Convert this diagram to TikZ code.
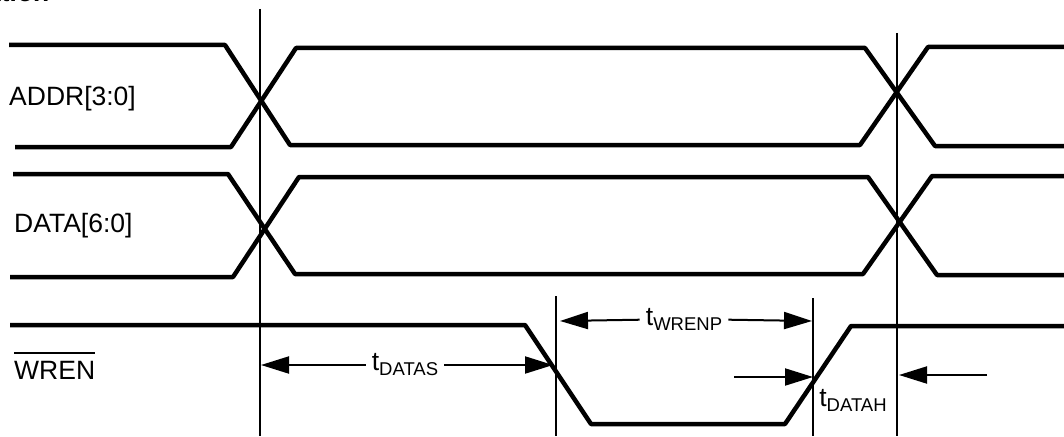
\documentclass[tikz,border=0pt]{standalone}
\usepackage{fontspec}
\setmainfont{Liberation Sans}
\usepackage{tikz}
\usetikzlibrary{arrows.meta,positioning}
\newsavebox\sigbox
\newcommand{\barsig}[1]{\sbox\sigbox{#1}\rlap{\rule[25pt]{\wd\sigbox}{2pt}}\usebox\sigbox}
\newcommand{\tsub}[1]{t\raisebox{-5pt}{\fontsize{18.5}{20}\selectfont #1}}
\tikzset{
    signal/.style={
    line width=4.5pt,line join=bevel
    },
    guide/.style={
    line width=2pt
    },
    dim/.style={
    line width=2pt,-{Triangle[length=28pt,width=17pt]}
    },
    sig/.style={
    font=\fontsize{26.5}{30}\selectfont,inner sep=0pt,anchor=base west
    },
    tlabel/.style={
    font=\fontsize{26.5}{30}\selectfont,inner ysep=0pt,inner xsep=6pt
    },
}
\begin{document}
\begin{tikzpicture}[x=1pt,y=-1pt]
  \useasboundingbox (0,0) rectangle (1064,436);
  \node[sig,font=\fontsize{26.5}{30}\selectfont\bfseries\itshape] (title) at (-13,2) {ation};

  % signal names
  \node[sig] (ADDR) at (9,105) {ADDR[3:0]};
  \node[sig] (DATA) at (14,232) {DATA[6:0]};
  \node[sig] (WREN) at (14,379) {\barsig{WREN}};

  % waveforms
  \draw[signal] (9,45) -- (225,45) -- (290,145) -- (860,145) -- (928,47) -- (1064,47);
  \draw[signal] (15,147) -- (231,147) -- (296,48) -- (865,48) -- (935,146) -- (1064,146);
  \draw[signal] (13,174) -- (228,174) -- (295,274) -- (863,274) -- (932,176) -- (1064,176);
  \draw[signal] (10,277) -- (233,277) -- (299,177) -- (868,177) -- (937,275) -- (1064,275);
  \draw[signal] (10,325) -- (525,325) -- (591,424) -- (785,424) -- (851,326) -- (1064,326);

  % guides
  \coordinate (g1t) at (260,9);    \coordinate (g1b) at (260,436);
  \coordinate (g2t) at (556,296);  \coordinate (g2b) at (556,436);
  \coordinate (g3t) at (813,298);  \coordinate (g3b) at (813,436);
  \coordinate (g4t) at (897,33);   \coordinate (g4b) at (897,436);
  \path[guide]
    (g1t) edge (g1b)
    (g2t) edge (g2b)
    (g3t) edge (g3b)
    (g4t) edge (g4b);

  % timing
  \node[tlabel] (tDATAS) at (405,365) {\tsub{DATAS}};
  \node[tlabel] (tWRENP) at (684,319) {\tsub{WRENP}};
  \node[tlabel,inner xsep=0pt] (tDATAH) at (853,400) {\tsub{DATAH}};
  \coordinate (datasL) at (261,365);
  \coordinate (datasR) at (553,365);
  \coordinate (wrenpL) at (560,321);
  \coordinate (wrenpR) at (812,321);
  \coordinate (datahA) at (734,377);
  \coordinate (datahB) at (813,377);
  \coordinate (datahC) at (987,375);
  \coordinate (datahD) at (899,375);

  \path[dim]
    (tDATAS) edge (datasL)
             edge (datasR)
    (tWRENP) edge (wrenpL)
             edge (wrenpR)
    (datahA) edge (datahB)
    (datahC) edge (datahD);

\end{tikzpicture}
\end{document}
